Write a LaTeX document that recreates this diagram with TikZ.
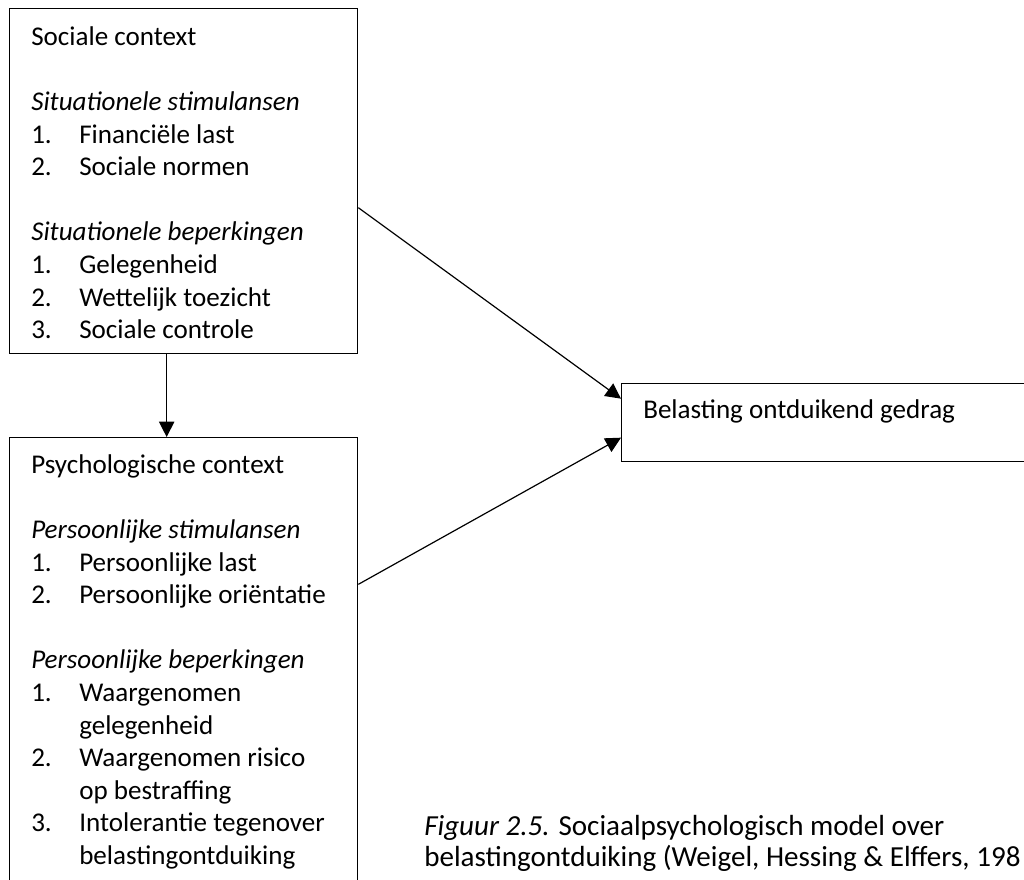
\documentclass[tikz,border=0pt]{standalone}
\usepackage{fontspec}
\setmainfont{Carlito}
\usetikzlibrary{arrows.meta,positioning}

\newcommand{\itemnr}[1]{\makebox[36pt][l]{#1}}
\newcommand{\vervolg}{\hspace*{36pt}}

\tikzset{
  kader/.style={draw, line width=1pt, anchor=north west, inner sep=0pt},
  tekst/.style={align=left, inner sep=0pt, font=\fontsize{20.3}{24.45}\selectfont},
  pijl/.style={-{Triangle[length=11.5pt,width=11.5pt]}, line width=0.9pt}
}

\begin{document}
\begin{tikzpicture}[x=0.75pt, y=-0.75pt]
    \clip (0,0) rectangle (1024,879);
    \fill[white] (0,0) rectangle (1024,879);

    % boxes
    \node[kader, minimum width=261pt, minimum height=258.75pt] (soc) at (9,8) {};
    \node[kader, minimum width=261pt, minimum height=348pt] (psy) at (9,437) {};
    \node[kader, minimum width=314.25pt, minimum height=58.5pt] (gedrag) at (621,383) {};

    \node[tekst, below right=11.75pt and 16.5pt of soc.north west] (soctekst) {\rule{0pt}{16pt}Sociale context\\[24.45pt]
        \textit{Situationele stimulansen}\\
        \itemnr{1.}Financiële last\\
        \itemnr{2.}Sociale normen\\[24.45pt]
        \textit{Situationele beperkingen}\\
        \itemnr{1.}Gelegenheid\\
        \itemnr{2.}Wettelijk toezicht\\
        \itemnr{3.}Sociale controle};

    \node[tekst, below right=11pt and 16.5pt of psy.north west] (psytekst) {\rule{0pt}{16pt}Psychologische context\\[24.45pt]
        \textit{Persoonlijke stimulansen}\\
        \itemnr{1.}Persoonlijke last\\
        \itemnr{2.}Persoonlijke oriëntatie\\[24.45pt]
        \textit{Persoonlijke beperkingen}\\
        \itemnr{1.}Waargenomen\\
        \vervolg gelegenheid\\
        \itemnr{2.}Waargenomen risico\\
        \vervolg op bestraffing\\
        \itemnr{3.}Intolerantie tegenover\\
        \vervolg belastingontduiking};

    \node[tekst, below right=10.25pt and 16.5pt of gedrag.north west] (gedragtekst) {\rule{0pt}{16pt}Belasting ontduikend gedrag};

    % arrows
    \draw[pijl] ([xshift=-12.75pt]soc.south) -- ([xshift=-12.75pt]psy.north);
    \draw[pijl] ([yshift=-19.9pt]soc.east) -- ([yshift=18pt]gedrag.west);
    \draw[pijl] ([yshift=64pt]psy.east) -- ([yshift=-11.25pt]gedrag.west);

    % caption
    \node[tekst, font=\fontsize{21.8}{23.25}\selectfont, anchor=north west] (onderschrift) at (424,813.7) {\rule{0pt}{16pt}\textit{Figuur 2.5.} Sociaalpsychologisch model over\\
        belastingontduiking (Weigel, Hessing \& Elffers, 198};
\end{tikzpicture}
\end{document}
